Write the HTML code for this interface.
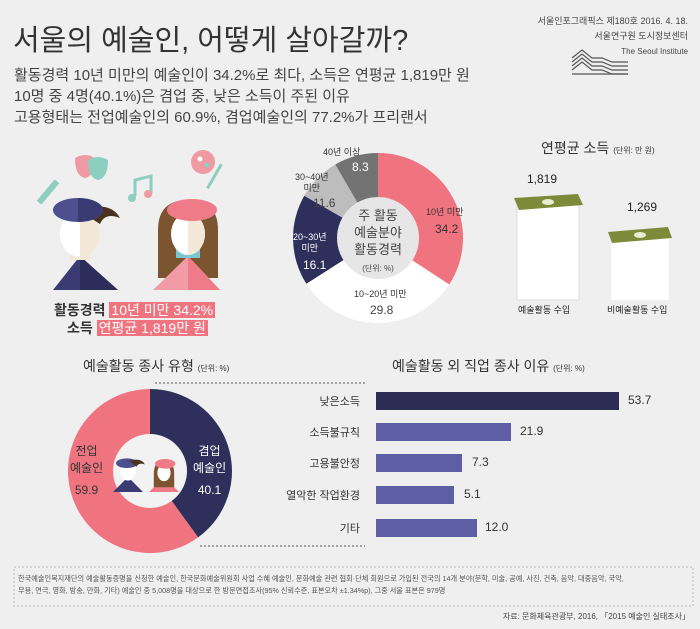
<!DOCTYPE html>
<html><head><meta charset="utf-8">
<style>
body{margin:0;background:#efefef;}
#c{position:relative;width:700px;height:629px;overflow:hidden;background:#efefef;font-family:"Liberation Sans","Noto Sans CJK KR",sans-serif;color:#333;}
.a{position:absolute;white-space:nowrap;}
</style></head><body><div id="c">
<div class="a" style="left:13px;top:17px;font-size:29px;color:#333;">서울의 예술인, 어떻게 살아갈까?</div>
<div class="a" style="left:14px;top:65px;font-size:15px;line-height:21px;color:#444;">활동경력 10년 미만의 예술인이 34.2%로 최다, 소득은 연평균 1,819만 원<br>10명 중 4명(40.1%)은 겸업 중, 낮은 소득이 주된 이유<br>고용형태는 전업예술인의 60.9%, 겸업예술인의 77.2%가 프리랜서</div>
<div class="a" style="right:12px;top:14px;font-size:9px;text-align:right;line-height:15px;color:#444;">서울인포그래픽스 제180호 2016. 4. 18.<br>서울연구원 도시정보센터<br><span style="font-size:8px">The Seoul Institute</span></div>
<svg class="a" style="left:570px;top:48px" width="60" height="30"><g fill="none" stroke="#555" stroke-width="1.2"><path d="M2 10 L12 2 L22 10 L32 10 L42 14 L58 14"/><path d="M2 14 L12 6 L22 14 L32 14 L42 18 L58 18"/><path d="M2 18 L12 10 L22 18 L32 18 L42 22 L58 22"/><path d="M2 22 L12 14 L22 22 L32 22 L42 26 L58 26"/><path d="M2 26 L58 26"/></g></svg>

<!-- figures -->
<svg class="a" style="left:0;top:130px" width="280" height="170">
<g>
<rect x="45" y="48" width="6" height="28" fill="#8ccfbf" transform="rotate(40 48 62)"/>
<path d="M75 28 q10 -6 20 0 q0 18 -10 20 q-10 -2 -10 -20z" fill="#ef9aa2"/>
<path d="M88 30 q10 -6 20 0 q0 18 -10 20 q-10 -2 -10 -20z" fill="#8ccfbf"/>
<path d="M135 66 l0 -16 l16 -4 l0 18" fill="none" stroke="#8ccfbf" stroke-width="3"/><circle cx="132" cy="68" r="4" fill="#8ccfbf"/><circle cx="148" cy="64" r="4" fill="#ef9aa2"/>
<circle cx="203" cy="32" r="12" fill="#ef9aa2"/><circle cx="200" cy="29" r="2.5" fill="#fff"/><circle cx="207" cy="35" r="2.5" fill="#8ccfbf"/>
<rect x="213" y="32" width="3" height="28" fill="#8ccfbf" transform="rotate(30 214 46)"/>
<!-- boy -->
<path d="M53 160 L80 126 L118 160 Z" fill="#3a3b73"/><path d="M80 126 L118 160 L80 160Z" fill="#2d2d5a"/>
<rect x="70" y="118" width="20" height="12" fill="#f3e7d8"/>
<ellipse cx="80" cy="104" rx="20" ry="23" fill="#fff"/><path d="M80 81 a20 23 0 0 1 0 46z" fill="#f3e7d8"/>
<path d="M78 80 q32 -10 42 8 q-15 -6 -20 6 z" fill="#4a3320"/>
<ellipse cx="78" cy="80" rx="25" ry="12" fill="#4d4f8f"/><path d="M78 68 a25 12 0 0 1 0 24z" fill="#3a3b73"/>
<!-- girl -->
<path d="M158 100 q0 -30 30 -30 q30 0 30 30 l0 48 l-60 0z" fill="#7b5530"/>
<path d="M153 160 L188 126 L220 160 Z" fill="#f29aa6"/><path d="M188 126 L220 160 L188 160Z" fill="#ee7b87"/>
<rect x="176" y="118" width="24" height="10" fill="#7cc7cf"/>
<ellipse cx="188" cy="104" rx="17" ry="21" fill="#fff"/><path d="M188 83 a17 21 0 0 1 0 42z" fill="#f3e7d8"/>
<ellipse cx="192" cy="80" rx="25" ry="11" fill="#ee7b87"/>
</g></svg>
<div class="a" style="left:54px;top:302px;font-size:14px;font-weight:bold;color:#333;line-height:17px;">활동경력 <span style="background:#ef7480;color:#fff;font-weight:normal;padding:0 2px">10년 미만 34.2%</span></div>
<div class="a" style="left:67px;top:320px;font-size:14px;font-weight:bold;color:#333;line-height:17px;">소득 <span style="background:#ef7480;color:#fff;font-weight:normal;padding:0 2px">연평균 1,819만 원</span></div>

<svg class="a" style="left:0;top:0" width="700" height="629">
<g transform="translate(378 238)">
<path d="M0 -85 A85 85 0 0 1 71.2 46.5 L0 0Z" fill="#ef7480"/>
<path d="M71.2 46.5 A85 85 0 0 1 -71.6 45.8 L0 0Z" fill="#ffffff"/>
<path d="M-71.6 45.8 A85 85 0 0 1 -73.7 -42.3 L0 0Z" fill="#2f2f5c"/>
<path d="M-73.7 -42.3 A85 85 0 0 1 -42.7 -73.5 L0 0Z" fill="#bdbdbd"/>
<path d="M-42.7 -73.5 A85 85 0 0 1 0 -85 L0 0Z" fill="#737373"/>
<circle r="41" fill="#e6e6e6"/>
</g>
<g transform="translate(150 471)">
<path d="M0 -82 A82 82 0 0 1 48.1 66.4 L0 0Z" fill="#2f2f5c"/>
<path d="M48.1 66.4 A82 82 0 1 1 0 -82 L0 0Z" fill="#ef7480"/>
<circle r="37" fill="#f2f2f2"/>
</g>
<g transform="translate(146 474) scale(0.6)">
<path d="M-55 30 L-30 5 L-5 30Z" fill="#3a3b73"/><ellipse cx="-30" cy="-5" rx="13" ry="16" fill="#fff"/><ellipse cx="-32" cy="-18" rx="18" ry="8" fill="#4d4f8f"/><path d="M-28 -22 q20 -6 26 6 q-10 -4 -14 4z" fill="#4a3320"/>
<path d="M5 30 L30 5 L55 30Z" fill="#ee7b87"/><path d="M13 0 q0 -22 17 -22 q17 0 17 22 l0 22 l-34 0z" fill="#7b5530"/><ellipse cx="30" cy="-2" rx="11" ry="14" fill="#fff"/><ellipse cx="32" cy="-17" rx="17" ry="8" fill="#ee7b87"/>
</g>
<line x1="155" y1="383" x2="365" y2="383" stroke="#555" stroke-dasharray="2 2"/>
<line x1="200" y1="546" x2="365" y2="546" stroke="#555" stroke-dasharray="2 2"/>
<rect x="376" y="392" width="243" height="18" fill="#2c2c55"/>
<rect x="376" y="423" width="135" height="18" fill="#5d5ea3"/>
<rect x="376" y="454" width="86" height="18" fill="#5d5ea3"/>
<rect x="376" y="486" width="78" height="18" fill="#5d5ea3"/>
<rect x="376" y="519" width="101" height="18" fill="#5d5ea3"/>
<rect x="14" y="567" width="679" height="39" fill="none" stroke="#bbb" stroke-dasharray="2 2"/>
<g>
<rect x="517" y="205" width="62" height="95" fill="#fff"/>
<path d="M517 205 L579 205 L579 300 L517 300 Z" fill="none" stroke="#ddd"/>
<path d="M514 198 L578 194 L583 205 L519 210Z" fill="#7d8a3a"/><ellipse cx="548" cy="202" rx="6" ry="3" fill="#e9ecd0"/>
<rect x="611" y="238" width="58" height="62" fill="#fff"/>
<path d="M608 232 L668 227 L672 238 L612 243Z" fill="#7d8a3a"/><ellipse cx="640" cy="235" rx="6" ry="3" fill="#e9ecd0"/>
</g>
</svg>
<div class="a" style="left:323px;top:145px;font-size:9px;color:#333">40년 이상</div>
<div class="a" style="left:352px;top:160px;font-size:12px;color:#fff">8.3</div>
<div class="a" style="left:295px;top:172px;font-size:9px;color:#333;line-height:11px;text-align:center">30~40년<br>미만</div>
<div class="a" style="left:313px;top:196px;font-size:12px;color:#444">11.6</div>
<div class="a" style="left:293px;top:232px;font-size:9px;color:#fff;line-height:11px;text-align:center">20~30년<br>미만</div>
<div class="a" style="left:303px;top:258px;font-size:12px;color:#fff">16.1</div>
<div class="a" style="left:426px;top:205px;font-size:9px;color:#333">10년 미만</div>
<div class="a" style="left:435px;top:222px;font-size:12px;color:#333">34.2</div>
<div class="a" style="left:354px;top:287px;font-size:9px;color:#333">10~20년 미만</div>
<div class="a" style="left:370px;top:303px;font-size:12px;color:#444">29.8</div>
<div class="a" style="left:378px;top:207px;transform:translateX(-50%);font-size:13px;line-height:17px;text-align:center;color:#444">주 활동<br>예술분야<br>활동경력<br><span style="font-size:8px">(단위: %)</span></div>
<div class="a" style="left:541px;top:138px;font-size:14px;color:#333">연평균 소득 <span style="font-size:8px">(단위: 만 원)</span></div>
<div class="a" style="left:527px;top:172px;font-size:12px;color:#222">1,819</div>
<div class="a" style="left:627px;top:200px;font-size:12px;color:#222">1,269</div>
<div class="a" style="left:518px;top:303px;font-size:9px;color:#222">예술활동 수입</div>
<div class="a" style="left:607px;top:303px;font-size:9px;color:#222">비예술활동 수입</div>

<div class="a" style="left:83px;top:356px;font-size:14px;color:#333">예술활동 종사 유형 <span style="font-size:8px">(단위: %)</span></div>
<div class="a" style="left:392px;top:356px;font-size:14px;color:#333">예술활동 외 직업 종사 이유 <span style="font-size:8px">(단위: %)</span></div>
<div class="a" style="left:70px;top:443px;font-size:12px;color:#333;line-height:17px;text-align:center">전업<br>예술인<br><span style="line-height:26px">59.9</span></div>
<div class="a" style="left:193px;top:443px;font-size:12px;color:#fff;line-height:17px;text-align:center">겸업<br>예술인<br><span style="line-height:26px">40.1</span></div>
<div class="a" style="right:340px;top:393px;font-size:11px;color:#333">낮은소득</div>
<div class="a" style="right:340px;top:424px;font-size:11px;color:#333">소득불규칙</div>
<div class="a" style="right:340px;top:455px;font-size:11px;color:#333">고용불안정</div>
<div class="a" style="right:340px;top:487px;font-size:11px;color:#333">열악한 작업환경</div>
<div class="a" style="right:340px;top:520px;font-size:11px;color:#333">기타</div>
<div class="a" style="left:628px;top:393px;font-size:12px;color:#333">53.7</div>
<div class="a" style="left:520px;top:424px;font-size:12px;color:#333">21.9</div>
<div class="a" style="left:472px;top:455px;font-size:12px;color:#333">7.3</div>
<div class="a" style="left:464px;top:487px;font-size:12px;color:#333">5.1</div>
<div class="a" style="left:485px;top:520px;font-size:12px;color:#333">12.0</div>
<div class="a" style="left:18px;top:573px;font-size:7.2px;line-height:12px;color:#555">한국예술인복지재단의 예술활동증명을 신청한 예술인, 한국문화예술위원회 사업 수혜 예술인, 문화예술 관련 협회·단체 회원으로 가입된 전국의 14개 분야(문학, 미술, 공예, 사진, 건축, 음악, 대중음악, 국악,<br>무용, 연극, 영화, 방송, 만화, 기타) 예술인 중 5,008명을 대상으로 한 방문면접조사(95% 신뢰수준, 표본오차 ±1.34%p), 그중 서울 표본은 979명</div>
<div class="a" style="right:10px;top:611px;font-size:8px;color:#444">자료: 문화체육관광부, 2016, 「2015 예술인 실태조사」</div>
</div></body></html>
